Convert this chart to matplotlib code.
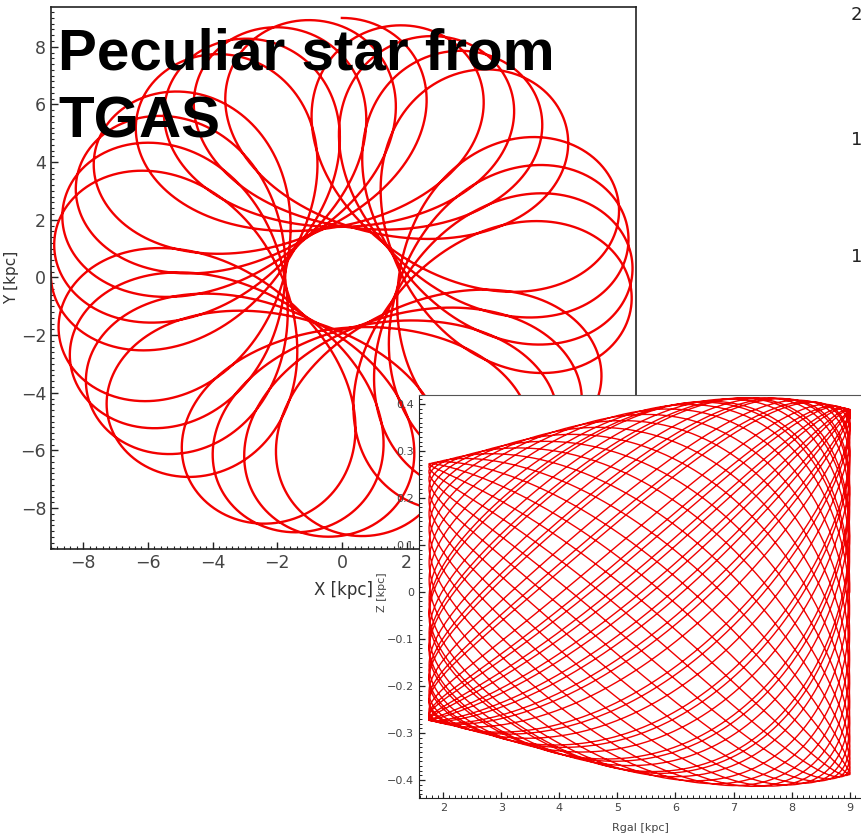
import math
import numpy as np
import matplotlib
matplotlib.use("Agg")
import matplotlib.pyplot as plt
from matplotlib.ticker import MultipleLocator

# ---------------------------------------------------------------
# Cored, flattened logarithmic potential (kpc, km/s) and the orbit
#   Phi = 0.5 v0^2 ln(Rc^2 + R^2 + z^2 / q^2)
# ---------------------------------------------------------------
potential_params = [240.0, 6.0, 0.55]  # v0, Rc, q

orbit_radii = [1.75, 9.0]              # pericentre, apocentre [kpc]
orbit_zmax = 0.43                      # vertical excursion at apocentre [kpc]
n_radial_periods = 28
loop_drift_deg = 360.0 / 7 + 1.3       # loop advance per radial period, rotating frame
loop_phase_deg = 90.0                  # direction of the first loop

title_lines = ["Peculiar star from", "TGAS"]
xy_ticks = [-8, -6, -4, -2, 0, 2, 4, 6, 8]
rz_xticks = [2, 3, 4, 5, 6, 7, 8, 9]
rz_yticks = [-0.4, -0.3, -0.2, -0.1, 0.0, 0.1, 0.2, 0.3, 0.4]
side_labels = ["2", "1", "1"]

v0, Rc, q_flat = potential_params
v0sq, Rc2, iq2 = v0 * v0, Rc * Rc, 1.0 / (q_flat * q_flat)


def potential(R, z):
    return 0.5 * v0sq * math.log(Rc2 + R * R + z * z * iq2)


def accel(x, y, z):
    k = v0sq / (Rc2 + x * x + y * y + z * z * iq2)
    return -k * x, -k * y, -k * z * iq2


r_peri, r_apo = orbit_radii
R_mid = 0.5 * (r_peri + r_apo)
# tangential speed at apocentre giving the requested pericentre
v2 = 2.0 * (potential(r_peri, 0.0) - potential(r_apo, 0.0)) / (1.0 - r_apo ** 2 / r_peri ** 2)
v_phi = math.sqrt(v2)
nu = math.sqrt(v0sq * iq2 / (Rc2 + r_apo ** 2))
v_z = orbit_zmax * nu

dt = 1e-4                                   # kpc/(km/s)
keep = 2


def step(state, acc):
    x, y, z, vx, vy, vz = state
    ax_, ay_, az_ = acc
    vx += 0.5 * dt * ax_
    vy += 0.5 * dt * ay_
    vz += 0.5 * dt * az_
    x += dt * vx
    y += dt * vy
    z += dt * vz
    ax_, ay_, az_ = accel(x, y, z)
    vx += 0.5 * dt * ax_
    vy += 0.5 * dt * ay_
    vz += 0.5 * dt * az_
    return (x, y, z, vx, vy, vz), (ax_, ay_, az_)


state = (r_apo, 0.0, 0.0, 0.0, v_phi, v_z)
acc = accel(*state[:3])
ts, xs, ys, zs = [0.0], [state[0]], [state[1]], [state[2]]
t = 0.0
i = 0
prev_R = r_apo
cross_t, cross_phi = [], []
phi_prev, phi_acc = 0.0, 0.0
while len(cross_t) < n_radial_periods + 1:
    state, acc = step(state, acc)
    t += dt
    i += 1
    x, y, z = state[:3]
    R = math.hypot(x, y)
    ph = math.atan2(y, x)
    d = ph - phi_prev
    if d < -math.pi:
        d += 2 * math.pi
    elif d > math.pi:
        d -= 2 * math.pi
    phi_acc += d
    phi_prev = ph
    # outward crossings of the mid radius mark each radial period
    if prev_R < R_mid <= R:
        cross_t.append(t)
        cross_phi.append(phi_acc)
    prev_R = R
    if i % keep == 0:
        ts.append(t)
        xs.append(x)
        ys.append(y)
        zs.append(z)

# finish the last outward leg up to apocentre
while True:
    state, acc = step(state, acc)
    t += dt
    x, y, z = state[:3]
    ts.append(t)
    xs.append(x)
    ys.append(y)
    zs.append(z)
    R = math.hypot(x, y)
    if R < prev_R:
        break
    prev_R = R

ts = np.array(ts)
xs = np.array(xs)
ys = np.array(ys)
zs = np.array(zs)
Rgal = np.hypot(xs, ys)

# radial period and azimuthal advance per radial period
T_r = (cross_t[-1] - cross_t[0]) / n_radial_periods
dphi_r = (cross_phi[-1] - cross_phi[0]) / n_radial_periods
omega_p = (dphi_r - math.radians(loop_drift_deg)) / T_r

# positions in the frame rotating at omega_p
ang = -omega_p * ts + math.radians(loop_phase_deg)
xr = xs * np.cos(ang) - ys * np.sin(ang)
yr = xs * np.sin(ang) + ys * np.cos(ang)

# ---------------------------------------------------------------
# Figure
# ---------------------------------------------------------------
W, H = 861, 834
fig = plt.figure(figsize=(W / 100, H / 100), dpi=100)
fig.patch.set_facecolor("white")

tick_grey = "#444444"


def px_axes(left, top, right, bottom):
    return [left / W, 1 - bottom / H, (right - left) / W, (bottom - top) / H]


# X-Y projection
ax1 = fig.add_axes(px_axes(51, 7, 636, 549))
ax1.plot(xr, yr, color="#f20000", lw=1.7, solid_joinstyle="round")
ax1.set_xlim(-9.0, 9.1)
ax1.set_ylim(-9.42, 9.38)
ax1.set_xticks(xy_ticks)
ax1.set_yticks(xy_ticks)
ax1.xaxis.set_minor_locator(MultipleLocator(0.2))
ax1.yaxis.set_minor_locator(MultipleLocator(0.2))
ax1.tick_params(which="both", direction="in", top=False, right=False,
                labelsize=12.5, labelcolor=tick_grey, color="#222222")
ax1.tick_params(which="major", length=5, width=1)
ax1.tick_params(which="minor", length=2.5, width=0.8)
ax1.set_xticklabels([f"{t}".replace("-", "\u2212") for t in xy_ticks])
ax1.set_yticklabels([f"{t}".replace("-", "\u2212") for t in xy_ticks])
for sp in ax1.spines.values():
    sp.set_color("#222222")
    sp.set_linewidth(1.2)
fig.text(343 / W, 1 - 590 / H, "X [kpc]", ha="center", va="center",
         fontsize=12, color="#333333")
fig.text(12 / W, 1 - 277 / H, "Y [kpc]", ha="center", va="center",
         rotation=90, fontsize=11, color="#333333")

# Title over the orbit
fig.text(58 / W, 1 - 69 / H, title_lines[0], ha="left", va="baseline",
         fontsize=42, fontweight="bold", family="Liberation Sans", color="black")
fig.text(58 / W, 1 - 137 / H, title_lines[1], ha="left", va="baseline",
         fontsize=42, fontweight="bold", family="Liberation Sans", color="black")

# R-Z meridional projection
ax2 = fig.add_axes(px_axes(419, 395, 867, 798), zorder=5)
ax2.set_facecolor("white")
ax2.plot(Rgal, zs, color="#f00000", lw=1.0, solid_joinstyle="round")
ax2.set_xlim(1.58, 9.3)
ax2.set_ylim(-0.438, 0.419)
ax2.set_xticks(rz_xticks)
ax2.set_yticks(rz_yticks)
ax2.xaxis.set_minor_locator(MultipleLocator(0.1))
ax2.yaxis.set_minor_locator(MultipleLocator(0.01))
ax2.tick_params(which="both", direction="in", top=False, right=False,
                labelsize=8, labelcolor=tick_grey, color="#222222")
ax2.tick_params(which="major", length=4, width=0.9)
ax2.tick_params(which="minor", length=2, width=0.7)
ax2.set_xticklabels([str(t) for t in rz_xticks])
ax2.set_yticklabels(["0" if t == 0 else f"{t:.1f}".replace("-", "\u2212") for t in rz_yticks])
ax2.spines["left"].set_color("#222222")
ax2.spines["bottom"].set_color("#222222")
ax2.spines["top"].set_color("#555555")
ax2.spines["top"].set_linewidth(0.8)
fig.text(640 / W, 1 - 828 / H, "Rgal [kpc]", ha="center", va="center",
         fontsize=8, color="#444444")
fig.text(382 / W, 1 - 592 / H, "Z [kpc]", ha="center", va="center",
         rotation=90, fontsize=8, color="#444444")

# tick labels of a neighbouring panel at the right edge
for lab, yc in zip(side_labels, [15, 140, 257]):
    fig.text(851 / W, 1 - yc / H, lab, ha="left", va="center",
             fontsize=13, color="#222222")

fig.savefig("out.png", dpi=100)
